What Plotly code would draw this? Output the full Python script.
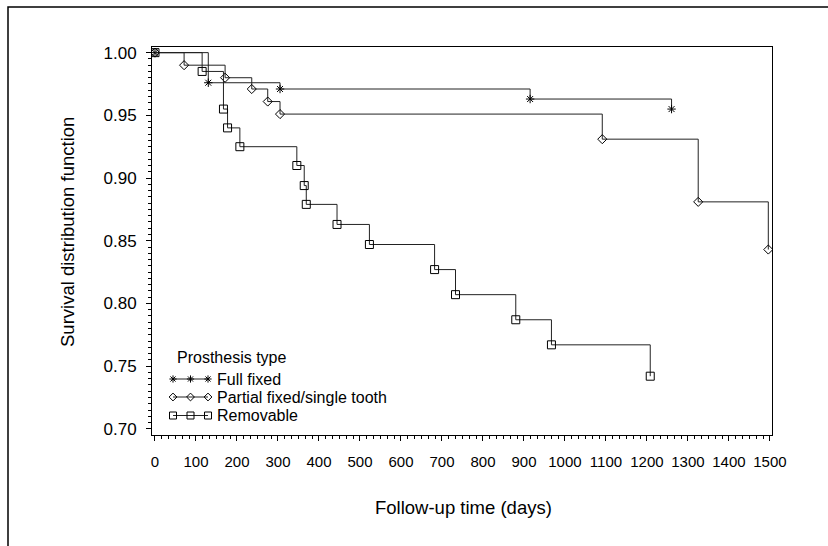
import plotly.graph_objects as go

# ---- data ----
full_days = [0, 130, 305, 915, 1260]
full_surv = [1.0, 0.976, 0.971, 0.963, 0.955]

partial_days = [0, 71, 171, 236, 275, 305, 1091, 1325, 1496]
partial_surv = [1.0, 0.990, 0.980, 0.971, 0.961, 0.951, 0.931, 0.881, 0.843]

remov_days = [0, 115, 167, 177, 207, 346, 364, 369, 444, 523, 682, 733, 880, 967, 1208]
remov_surv = [1.0, 0.985, 0.955, 0.940, 0.925, 0.910, 0.894, 0.879, 0.863, 0.847,
              0.827, 0.807, 0.787, 0.767, 0.742]

series_names = ["Full fixed", "Partial fixed/single tooth", "Removable"]
legend_title = "Prosthesis type"
y_ticks = [0.70, 0.75, 0.80, 0.85, 0.90, 0.95, 1.00]
x_ticks = list(range(0, 1501, 100))

FONT = "Liberation Sans, Arial, sans-serif"
W, H = 828, 546
L, R, T, B = 152, 772, 47, 435
symbols = ["asterisk-open", "diamond-open", "square-open"]
sizes = [7, 7, 8]
LINE = dict(shape="hv", color="#222222", width=1)

fig = go.Figure()
for name, xs, ys, sym, sz in zip(series_names,
                                 [full_days, partial_days, remov_days],
                                 [full_surv, partial_surv, remov_surv],
                                 symbols, sizes):
    fig.add_trace(go.Scatter(
        x=xs, y=ys, name=name, mode="lines+markers", showlegend=False,
        line=LINE,
        marker=dict(symbol=sym, size=sz, color="black", line=dict(width=1, color="black")),
    ))

# ---- legend key (drawn on a hidden pixel-space overlay axis) ----
leg_rows_y = [379, 397, 415.5]
leg_key_x = [173, 190.5, 208]
for name, sym, sz, ry in zip(series_names, symbols, sizes, leg_rows_y):
    fig.add_trace(go.Scatter(
        x=leg_key_x, y=[ry] * len(leg_key_x), xaxis="x2", yaxis="y2",
        mode="lines+markers", showlegend=False, hoverinfo="skip",
        line=dict(color="#222222", width=1),
        marker=dict(symbol=sym, size=sz - 1, color="black", line=dict(width=1, color="black")),
    ))

axis_common = dict(showline=True, linecolor="black", linewidth=1, mirror=True,
                   ticks="outside", tickcolor="black", ticklen=5, tickwidth=1,
                   showgrid=False, zeroline=False)

fig.update_layout(
    xaxis=dict(range=[-7.3, 1505], tickmode="array", tickvals=x_ticks,
               ticktext=[str(v) for v in x_ticks], ticklabelstandoff=8,
               tickfont=dict(family=FONT, size=15, color="black"),
               minor=dict(ticks="outside", ticklen=3, dtick=100 / 6, tick0=0, tickcolor="black"),
               **axis_common),
    yaxis=dict(range=[0.6951, 1.0045], tickmode="array", tickvals=y_ticks,
               ticktext=[f"{v:.2f}" for v in y_ticks], ticklabelstandoff=6,
               tickfont=dict(family=FONT, size=17, color="black"),
               minor=dict(ticks="outside", ticklen=3, dtick=0.005, tick0=0.7, tickcolor="black"),
               **axis_common),
    xaxis2=dict(range=[L, R], overlaying="x", visible=False, fixedrange=True),
    yaxis2=dict(range=[B, T], overlaying="y", visible=False, fixedrange=True),
)

pw, ph = R - L, B - T
def px(xpix):
    return (xpix - L) / pw
def py(ypix):
    return (B - ypix) / ph

# outer frame (top and left edges)
fig.add_shape(type="path", xref="paper", yref="paper",
              path=f"M {px(8)} {py(546)} L {px(8)} {py(7)} L {px(828)} {py(7)}",
              line=dict(color="black", width=1.5))

fig.add_annotation(text="Follow-up time (days)", xref="paper", yref="paper",
                   x=px(463), y=py(507), showarrow=False, xanchor="center", yanchor="middle",
                   font=dict(family=FONT, size=18.5, color="black"))
fig.add_annotation(text="Survival distribution function", xref="paper", yref="paper",
                   x=px(67), y=py(232), showarrow=False, textangle=-90,
                   xanchor="center", yanchor="middle",
                   font=dict(family=FONT, size=18.5, color="black"))

# legend texts
fig.add_annotation(text=legend_title, xref="paper", yref="paper",
                   x=px(175), y=py(357), showarrow=False, xanchor="left", yanchor="middle",
                   font=dict(family=FONT, size=16, color="black"))
for name, ry in zip(series_names, leg_rows_y):
    fig.add_annotation(text=name, xref="paper", yref="paper",
                       x=px(215), y=py(ry), showarrow=False, xanchor="left", yanchor="middle",
                       font=dict(family=FONT, size=16, color="black"))

fig.update_layout(
    width=W, height=H, autosize=False,
    margin=dict(l=L, r=W - R, t=T, b=H - B),
    paper_bgcolor="white", plot_bgcolor="white",
    font=dict(family=FONT, color="black"),
    showlegend=False,
)

fig.write_html("out.html")
